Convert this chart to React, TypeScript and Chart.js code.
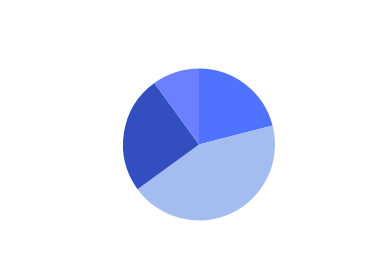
import React, { useEffect, useRef } from "react";
import { Chart, registerables } from "chart.js";

Chart.register(...registerables);

const labels = ["A", "B", "C", "D"];
const values = [21, 44, 25, 10];
const colors = ["#5073ff", "#a3bdf0", "#334ebf", "#6b80ff"];

export default function App() {
  const ref = useRef<HTMLCanvasElement | null>(null);
  useEffect(() => {
    if (!ref.current) return;
    const chart = new Chart(ref.current, {
      type: "pie",
      data: {
        labels,
        datasets: [
          {
            data: values,
            backgroundColor: colors,
            borderWidth: 0,
          },
        ],
      },
      options: {
        animation: false,
        responsive: false,
        maintainAspectRatio: false,
        layout: { padding: { left: 123, right: 100, top: 68, bottom: 57 } },
        plugins: { legend: { display: false }, tooltip: { enabled: false } },
      },
    });
    return () => chart.destroy();
  }, []);
  return (
    <div style={{ position: "fixed", left: 0, top: 0, width: 375, height: 278, background: "#fff" }}>
      <canvas ref={ref} width={375} height={278} style={{ width: 375, height: 278 }} />
    </div>
  );
}
